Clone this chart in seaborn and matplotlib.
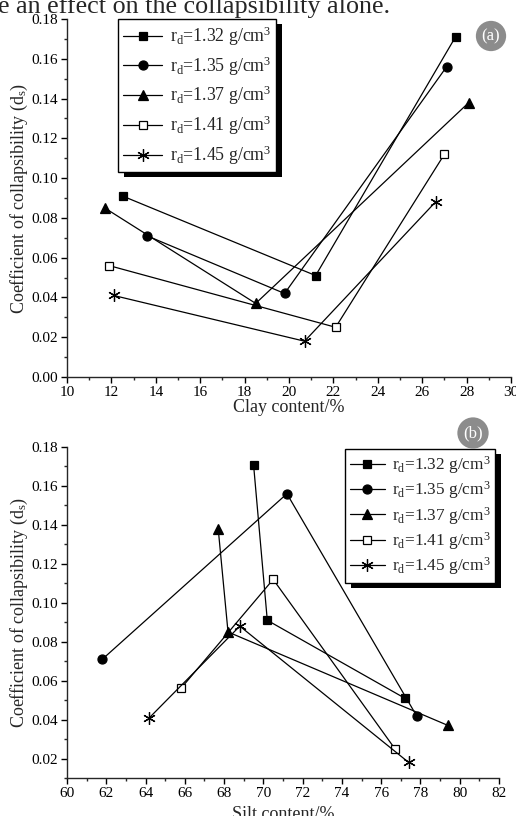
import matplotlib
matplotlib.use("Agg")
import matplotlib.pyplot as plt
import seaborn as sns
import pandas as pd
from matplotlib.patches import Rectangle
from matplotlib.transforms import IdentityTransform

# ---- data ----
densities = ["1.32", "1.35", "1.37", "1.41", "1.45"]
ds_132 = [0.091, 0.051, 0.171]
ds_135 = [0.071, 0.042, 0.156]
ds_137 = [0.085, 0.037, 0.138]
ds_141 = [0.056, 0.025, 0.112]
ds_145 = [0.041, 0.018, 0.088]
clay_132 = [12.5, 21.2, 27.5]
clay_135 = [13.6, 19.8, 27.1]
clay_137 = [11.7, 18.5, 28.1]
clay_141 = [11.9, 22.1, 27.0]
clay_145 = [12.1, 20.7, 26.6]
silt_132 = [70.2, 77.2, 69.5]
silt_135 = [61.8, 77.8, 71.2]
silt_137 = [68.2, 79.4, 67.7]
silt_141 = [65.8, 76.7, 70.5]
silt_145 = [64.2, 77.4, 68.8]

ds_all = [ds_132, ds_135, ds_137, ds_141, ds_145]
clay_all = [clay_132, clay_135, clay_137, clay_141, clay_145]
silt_all = [silt_132, silt_135, silt_137, silt_141, silt_145]

rows = []
for d, ds, c, s in zip(densities, ds_all, clay_all, silt_all):
    for a, b, e in zip(ds, c, s):
        rows.append({"rd": d, "ds": a, "clay": b, "silt": e})
df = pd.DataFrame(rows)

sns.set_style("ticks")
plt.rcParams["font.family"] = ["Liberation Serif", "DejaVu Serif"]
plt.rcParams["mathtext.fontset"] = "custom"
plt.rcParams["mathtext.rm"] = "Liberation Serif"
plt.rcParams["mathtext.it"] = "Liberation Serif:italic"
plt.rcParams["axes.linewidth"] = 1.0
plt.rcParams["xtick.direction"] = "out"
plt.rcParams["ytick.direction"] = "out"

W, H = 516, 816
fig = plt.figure(figsize=(W / 100, H / 100), dpi=100)

def px_axes(l, r, t, b):
    return fig.add_axes([l / W, 1 - b / H, (r - l) / W, (b - t) / H])

ax1 = px_axes(67, 511, 19, 377)
ax2 = px_axes(67, 499, 447, 778)

styles = [
    dict(marker="s", markerfacecolor="black", markersize=6),
    dict(marker="o", markerfacecolor="black", markersize=6.5),
    dict(marker="^", markerfacecolor="black", markersize=7),
    dict(marker="s", markerfacecolor="white", markersize=6),
    dict(marker=(6, 2, 0), markerfacecolor="black", markersize=9),
]

for ax, xcol in [(ax1, "clay"), (ax2, "silt")]:
    for d, st in zip(densities, styles):
        sub = df[df["rd"] == d]
        sns.lineplot(data=sub, x=xcol, y="ds", ax=ax, color="black",
                     linewidth=0.9, markeredgecolor="black",
                     markeredgewidth=0.9, sort=True, errorbar=None,
                     label=r"r$_\mathrm{d}$=" + d + r" g/cm$^\mathrm{3}$", **st)

for ax in (ax1, ax2):
    sns.despine(ax=ax)
    ax.tick_params(which="major", length=4, width=1, labelsize=11,
                   colors="black", pad=2.5)
    ax.tick_params(which="minor", length=2.5, width=1)
    ax.set_ylabel(r"Coefficient of collapsibility (d$_\mathrm{s}$)", fontsize=13)

ax1.set_xlim(10, 30)
ax1.set_ylim(0.0, 0.18)
ax1.set_xticks(range(10, 31, 2))
ax1.set_xticks(range(11, 30, 2), minor=True)
ax1.set_yticks([i * 0.02 for i in range(10)])
ax1.set_yticks([0.01 + i * 0.02 for i in range(9)], minor=True)
ax1.yaxis.set_major_formatter(matplotlib.ticker.FormatStrFormatter("%.2f"))
ax1.set_xlabel("Clay content/%", fontsize=13, labelpad=0)

ax2.set_xlim(60, 82)
ax2.set_ylim(0.01, 0.18)
ax2.set_xticks(range(60, 83, 2))
ax2.set_xticks(range(61, 82, 2), minor=True)
ax2.set_yticks([0.02 + i * 0.02 for i in range(9)])
ax2.set_yticks([0.01 + i * 0.02 for i in range(9)], minor=True)
ax2.yaxis.set_major_formatter(matplotlib.ticker.FormatStrFormatter("%.2f"))
ax2.set_xlabel("Silt content/%", fontsize=13, labelpad=4)

ax1.yaxis.set_label_coords((30 - 67) / 444, 0.5)
ax2.yaxis.set_label_coords((30 - 67) / 432, 0.5)

def make_legend(ax, x, y, spacing, fs, hl):
    leg = ax.legend(loc="upper left", bbox_to_anchor=(x / W, 1 - y / H),
                    bbox_transform=fig.transFigure, fontsize=fs,
                    frameon=True, fancybox=False, edgecolor="black",
                    framealpha=1, handlelength=hl, handletextpad=0.4,
                    labelspacing=spacing, borderpad=0.3, borderaxespad=0)
    leg.get_frame().set_linewidth(1.0)
    leg.set_zorder(10)
    return leg

leg1 = make_legend(ax1, 118, 19, 0.36, 12.8, 2.2)
leg2 = make_legend(ax2, 345, 449, 0.2, 12.4, 2.0)

fig.canvas.draw()
for ax, leg in ((ax1, leg1), (ax2, leg2)):
    bb = leg.get_window_extent()
    rect = Rectangle((bb.x0 + 6, bb.y0 - 5), bb.width, bb.height,
                     transform=IdentityTransform(), facecolor="black",
                     edgecolor="none", zorder=9, clip_on=False)
    ax.add_artist(rect)

for label, xp, yp in [("(a)", 491, 36), ("(b)", 473, 433)]:
    fig.text(xp / W, 1 - yp / H, label, color="white", fontsize=12,
             ha="center", va="center",
             bbox=dict(boxstyle="circle,pad=0.35", facecolor="#8c8c8c",
                       edgecolor="none"))

fig.text(-2 / W, 1 - 13 / H, "e an effect on the collapsibility alone.",
         fontsize=18.8, ha="left", va="baseline")

fig.savefig("out.png", dpi=100)
